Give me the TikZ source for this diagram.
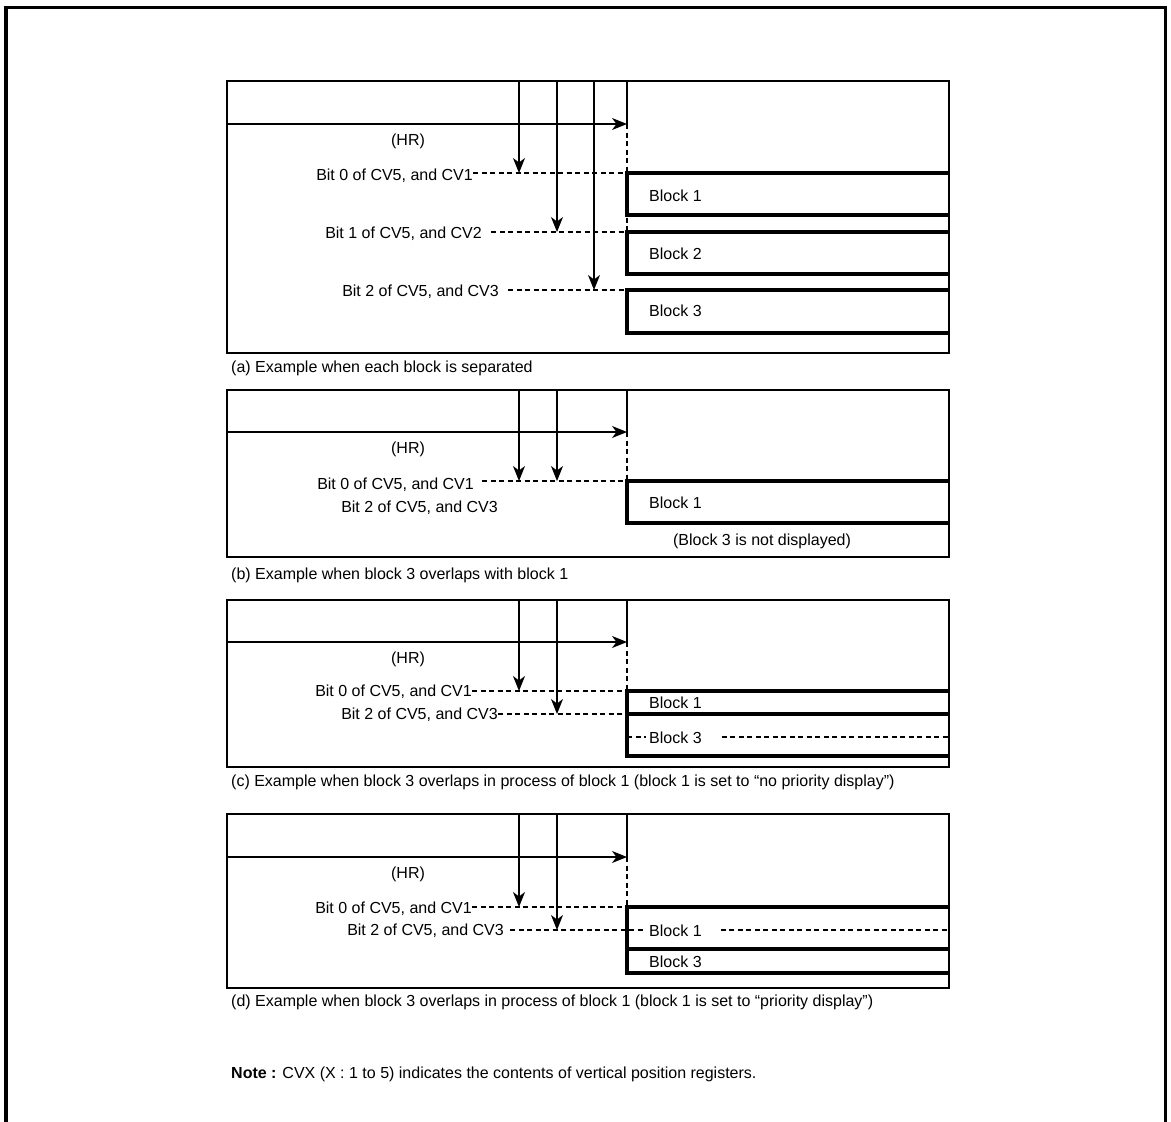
\documentclass[tikz,border=0pt]{standalone}
\usepackage{fontspec}
\setmainfont{Liberation Sans}
\usetikzlibrary{arrows.meta}
\tikzset{
  lbl/.style={font=\fontsize{16}{19}\selectfont, inner sep=0pt},
  lblw/.style={lbl, anchor=west},
  lble/.style={lbl, anchor=east},
  panel/.style={line width=1.2pt},
  blk/.style={line width=3.2pt},
  arr/.style={line width=1.3pt, -{Stealth[length=15pt,width=12pt,inset=4.5pt]}},
  dsh/.style={line width=1.2pt, dash pattern=on 5pt off 3.5pt},
  outer/.style={line width=3.8pt},
}
\begin{document}
\begin{tikzpicture}[x=1pt,y=-1pt]
\useasboundingbox (0,0) rectangle (1171,1122);
\draw[outer] (6,1122) -- (6,7.5) -- (1165.5,7.5) -- (1165.5,1122);

% ================= panel (a)
\draw[panel] (227,81) rectangle (949,353);
\coordinate (aH0) at (227,124);
\coordinate (aH1) at (627,124);
\coordinate (aTop) at (627,81);
\coordinate (aE0) at (627,173);
\coordinate (aE1) at (627,232);
\coordinate (aE2) at (627,290);
\draw[arr] (aH0) -- (aH1);
\draw[panel] (aTop) -- (aH1);
\draw[dsh] (aH1) -- (aE1);
\node[lbl] (aHR) at (408,141) {(HR)};
\node[lble] (aT0) at (473,176) {Bit 0 of CV5, and CV1};
\node[lble] (aT1) at (482,234) {Bit 1 of CV5, and CV2};
\node[lble] (aT2) at (499,292) {Bit 2 of CV5, and CV3};
\draw[dsh] (aT0.east |- aE0) -- (aE0);
\draw[dsh] ([xshift=9pt]aT1.east |- aE1) -- (aE1);
\draw[dsh] ([xshift=9pt]aT2.east |- aE2) -- (aE2);
\draw[arr] (519,81) -- (519,173);
\draw[arr] (557,81) -- (557,232);
\draw[arr] (594,81) -- (594,290);
\draw[blk] (949,173) -- (aE0) -- (627,215) -- (949,215);
\draw[blk] (949,232) -- (aE1) -- (627,274) -- (949,274);
\draw[blk] (949,290) -- (aE2) -- (627,333) -- (949,333);
\node[lblw] (aB1) at (649,196) {Block 1};
\node[lblw] (aB2) at (649,254) {Block 2};
\node[lblw] (aB3) at (649,311) {Block 3};
\node[lblw] (aCap) at (231,368) {(a) Example when each block is separated};

% ================= panel (b)
\draw[panel] (227,390) rectangle (949,557);
\coordinate (bH0) at (227,432);
\coordinate (bH1) at (627,432);
\coordinate (bTop) at (627,390);
\coordinate (bE0) at (627,481);
\draw[arr] (bH0) -- (bH1);
\draw[panel] (bTop) -- (bH1);
\draw[dsh] (bH1) -- (bE0);
\node[lbl] (bHR) at (408,449) {(HR)};
\node[lble] (bT0) at (474,485) {Bit 0 of CV5, and CV1};
\node[lble] (bT2) at (498,508) {Bit 2 of CV5, and CV3};
\draw[dsh] ([xshift=8pt]bT0.east |- bE0) -- (bE0);
\draw[arr] (519,390) -- (519,481);
\draw[arr] (557,390) -- (557,481);
\draw[blk] (949,481) -- (bE0) -- (627,523) -- (949,523);
\node[lblw] (bB1) at (649,503) {Block 1};
\node[lbl] (bN3) at (762,541) {(Block 3 is not displayed)};
\node[lblw] (bCap) at (231,575) {(b) Example when block 3 overlaps with block 1};

% ================= panel (c)
\draw[panel] (227,600) rectangle (949,767);
\coordinate (cH0) at (227,642);
\coordinate (cH1) at (627,642);
\coordinate (cTop) at (627,600);
\coordinate (cE0) at (627,691);
\coordinate (cE2) at (627,714);
\draw[arr] (cH0) -- (cH1);
\draw[panel] (cTop) -- (cH1);
\draw[dsh] (cH1) -- (cE0);
\node[lbl] (cHR) at (408,659) {(HR)};
\node[lble] (cT0) at (472,692) {Bit 0 of CV5, and CV1};
\node[lble] (cT2) at (498,715) {Bit 2 of CV5, and CV3};
\draw[dsh] (cT0.east |- cE0) -- (cE0);
\draw[dsh] (cT2.east |- cE2) -- (cE2);
\draw[arr] (519,600) -- (519,691);
\draw[arr] (557,600) -- (557,714);
\draw[blk] (949,691) -- (cE0) -- (627,756) -- (949,756);
\draw[blk] (cE2) -- (949,714);
\node[lblw] (cB1) at (649,703) {Block 1};
\node[lblw] (cB3) at (649,738) {Block 3};
\draw[dsh] (627,737) -- ([xshift=-3pt]cB3.west |- 0,737);
\draw[dsh] ([xshift=20pt]cB3.east |- 0,737) -- (949,737);
\node[lblw] (cCap) at (231,782) {(c) Example when block 3 overlaps in process of block 1 (block 1 is set to “no priority display”)};

% ================= panel (d)
\draw[panel] (227,814) rectangle (949,988);
\coordinate (dH0) at (227,857);
\coordinate (dH1) at (627,857);
\coordinate (dTop) at (627,814);
\coordinate (dE0) at (627,907);
\coordinate (dE2) at (627,930);
\draw[arr] (dH0) -- (dH1);
\draw[panel] (dTop) -- (dH1);
\draw[dsh] (dH1) -- (dE0);
\node[lbl] (dHR) at (408,874) {(HR)};
\node[lble] (dT0) at (472,909) {Bit 0 of CV5, and CV1};
\node[lble] (dT2) at (504,931) {Bit 2 of CV5, and CV3};
\draw[arr] (519,814) -- (519,907);
\draw[arr] (557,814) -- (557,930);
\draw[blk] (949,907) -- (dE0) -- (627,973) -- (949,973);
\draw[blk] (627,949) -- (949,949);
\node[lblw] (dB1) at (649,931) {Block 1};
\node[lblw] (dB3) at (649,962) {Block 3};
\draw[dsh] (dT0.east |- dE0) -- (dE0);
\draw[dsh] ([xshift=6pt]dT2.east |- dE2) -- ([xshift=-4pt]dB1.west |- dE2);
\draw[dsh] ([xshift=19pt]dB1.east |- dE2) -- (949,930);
\node[lblw] (dCap) at (231,1002) {(d) Example when block 3 overlaps in process of block 1 (block 1 is set to “priority display”)};

% ================= note
\node[lblw] (note) at (231,1074) {\textbf{Note :} CVX (X : 1 to 5) indicates the contents of vertical position registers.};
\end{tikzpicture}
\end{document}
